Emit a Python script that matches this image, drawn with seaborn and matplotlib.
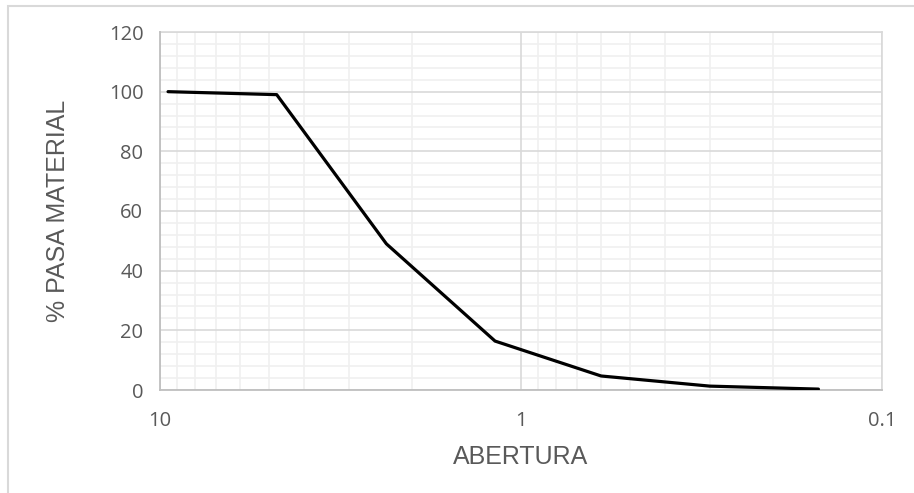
import matplotlib
matplotlib.use("Agg")
import matplotlib.pyplot as plt
import matplotlib.ticker as mticker
from matplotlib.patches import Rectangle
import seaborn as sns
import pandas as pd

# Data
abertura = [9.5, 4.75, 2.36, 1.18, 0.6, 0.3, 0.15]
pasa = [100.0, 99.0, 49.0, 16.4, 4.7, 1.3, 0.3]
x_ticks = [10, 1, 0.1]
x_tick_labels = ["10", "1", "0.1"]
y_ticks = [0, 20, 40, 60, 80, 100, 120]

df = pd.DataFrame({"ABERTURA": abertura, "PASA": pasa})

sns.set_theme(style="white")
plt.rcParams["font.family"] = ["Liberation Sans", "DejaVu Sans"]

fig = plt.figure(figsize=(9.14, 4.93), dpi=100)
ax = fig.add_axes([160 / 914, 1 - 390 / 493, (882 - 160) / 914, (390 - 32) / 493])

sns.lineplot(data=df, x="ABERTURA", y="PASA", ax=ax, color="black",
             linewidth=2.3, sort=False, zorder=5)

ax.set_xscale("log")
ax.set_xlim(10, 0.1)
ax.set_ylim(0, 120)

ax.xaxis.set_major_locator(mticker.FixedLocator(x_ticks))
ax.xaxis.set_major_formatter(mticker.FixedFormatter(x_tick_labels))
ax.xaxis.set_minor_locator(mticker.LogLocator(base=10, subs=[2, 3, 4, 5, 6, 7, 8, 9]))
ax.xaxis.set_minor_formatter(mticker.NullFormatter())
ax.yaxis.set_major_locator(mticker.FixedLocator(y_ticks))
ax.yaxis.set_minor_locator(mticker.MultipleLocator(4))

# minor grid (below), major grid drawn on top of it
ax.grid(which="minor", color="#f0f0f0", linewidth=1.2)
ax.set_axisbelow(True)
for xv in x_ticks:
    ax.axvline(xv, color="#d9d9d9", linewidth=1.2, zorder=1)
for yv in y_ticks:
    ax.axhline(yv, color="#d9d9d9", linewidth=1.2, zorder=1)

for lab in ax.get_xticklabels() + ax.get_yticklabels():
    lab.set_fontfamily(["Open Sans", "DejaVu Sans"])
    lab.set_fontsize(14.5)
    lab.set_color("#595959")

ax.tick_params(axis="both", which="major", length=6, width=1.2, color="#bfbfbf",
               direction="out", labelcolor="#595959")
ax.tick_params(axis="y", which="major", pad=6)
ax.tick_params(axis="x", which="major", pad=9)
ax.tick_params(axis="both", which="minor", length=0)

for side in ["left", "bottom"]:
    ax.spines[side].set_color("#bfbfbf")
    ax.spines[side].set_linewidth(1.3)
    ax.spines[side].set_zorder(3)
for side in ["top", "right"]:
    ax.spines[side].set_color("#d9d9d9")
    ax.spines[side].set_linewidth(1.2)

ax.set_xlabel("ABERTURA", fontsize=18, color="#595959", labelpad=10)
ax.set_ylabel("% PASA MATERIAL", fontsize=18, color="#595959", labelpad=28)

# chart area border
fig.patches.append(Rectangle((8 / 914, -0.1), 1.2, 1 - 6 / 493 + 0.1,
                             transform=fig.transFigure, fill=False,
                             edgecolor="#d9d9d9", linewidth=1.5, zorder=-1))

fig.savefig("out.png", dpi=100)
